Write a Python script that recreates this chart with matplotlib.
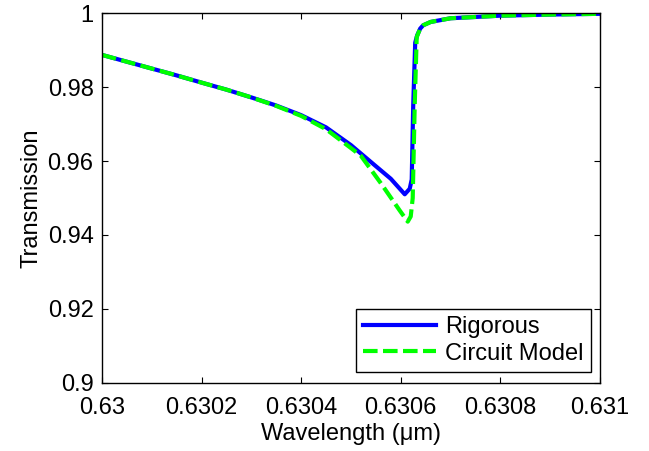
import matplotlib
matplotlib.use("Agg")
import matplotlib.pyplot as plt

plt.rcParams['font.family'] = ['Liberation Sans', 'DejaVu Sans']

# Rigorous simulation
wl_rig = [0.63000, 0.63005, 0.63010, 0.63015, 0.63020, 0.63025, 0.63030,
          0.63035, 0.63040, 0.63045, 0.63050, 0.63055, 0.63058, 0.63060,
          0.630608, 0.630618, 0.630622, 0.630625, 0.630629, 0.630633,
          0.630639, 0.630645, 0.63066, 0.63070, 0.63080, 0.63090, 0.63100]
t_rig = [0.9887, 0.98685, 0.9850, 0.98315, 0.9812, 0.9793, 0.9772,
         0.9750, 0.9724, 0.9691, 0.9643, 0.9586, 0.9552, 0.9522,
         0.9510, 0.9525, 0.9550, 0.9750, 0.9920, 0.9940,
         0.9958, 0.9967, 0.9976, 0.9986, 0.9993, 0.9996, 0.9998]

# Circuit model
wl_cm = [0.63000, 0.63005, 0.63010, 0.63015, 0.63020, 0.63025, 0.63030,
         0.63035, 0.63040, 0.63045, 0.63050, 0.63052, 0.63056, 0.630578,
         0.630598, 0.630614, 0.63062, 0.630624, 0.630628, 0.630632,
         0.630639, 0.630645, 0.63066, 0.63070, 0.63080, 0.63090, 0.63100]
t_cm = [0.9887, 0.98685, 0.9850, 0.98315, 0.9812, 0.9793, 0.9772,
        0.9749, 0.9722, 0.9686, 0.9635, 0.9614, 0.9540, 0.9505,
        0.9466, 0.9436, 0.9450, 0.9500, 0.9750, 0.9935,
        0.9958, 0.9967, 0.9976, 0.9986, 0.9993, 0.9996, 0.9998]

xticks = [0.63, 0.6302, 0.6304, 0.6306, 0.6308, 0.631]
xlabels = ['0.63', '0.6302', '0.6304', '0.6306', '0.6308', '0.631']
yticks = [0.9, 0.92, 0.94, 0.96, 0.98, 1.0]
ylabels = ['0.9', '0.92', '0.94', '0.96', '0.98', '1']

fig = plt.figure(figsize=(6.49, 4.51), dpi=100)
ax = fig.add_axes([0.157, 0.151, 0.7675, 0.820])

ax.plot(wl_rig, t_rig, color='#0000ff', lw=3, label='Rigorous')
line, = ax.plot(wl_cm, t_cm, color='#00ff00', lw=3, ls='--', label='Circuit Model')
line.set_dashes([3.5, 1.3])

ax.set_xlim(0.63, 0.631)
ax.set_ylim(0.9, 1.0)
ax.set_xticks(xticks)
ax.set_xticklabels(xlabels)
ax.set_yticks(yticks)
ax.set_yticklabels(ylabels)
ax.tick_params(direction='in', length=4, width=0.8, top=True, right=True,
               labelsize=17)
ax.tick_params(axis='x', pad=10)
ax.tick_params(axis='y', pad=6)
for s in ax.spines.values():
    s.set_linewidth(1.0)

ax.set_xlabel('Wavelength (\u03bcm)', fontsize=17, labelpad=3)
ax.set_ylabel('Transmission', fontsize=17, labelpad=4)

leg = ax.legend(loc='lower right', bbox_to_anchor=(0.982, 0.03), borderaxespad=0,
                fontsize=17, fancybox=False, edgecolor='black', framealpha=1,
                handlelength=3.1, handletextpad=0.4, labelspacing=0.2,
                borderpad=0.3)
leg.get_frame().set_linewidth(1.0)

fig.savefig('out.png', dpi=100)
